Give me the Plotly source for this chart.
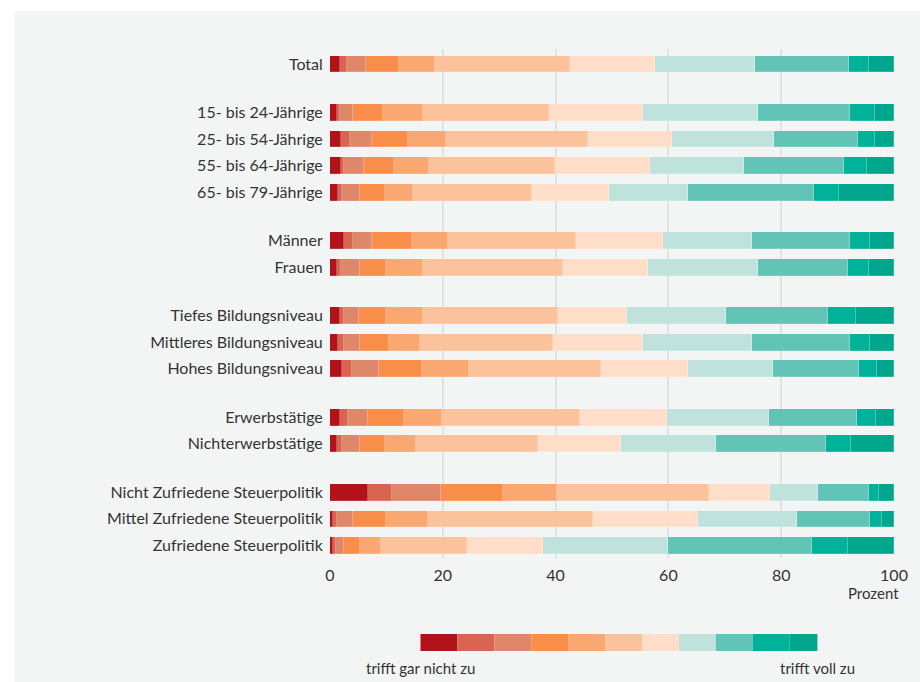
import plotly.graph_objects as go

# Kategorien von oben nach unten, in Gruppen
kategorien = [
    "Total",
    "15- bis 24-Jährige", "25- bis 54-Jährige", "55- bis 64-Jährige", "65- bis 79-Jährige",
    "Männer", "Frauen",
    "Tiefes Bildungsniveau", "Mittleres Bildungsniveau", "Hohes Bildungsniveau",
    "Erwerbstätige", "Nichterwerbstätige",
    "Nicht Zufriedene Steuerpolitik", "Mittel Zufriedene Steuerpolitik", "Zufriedene Steuerpolitik",
]
gruppen = [1, 4, 2, 3, 2, 3]

# Anteile in Prozent je Antwortstufe (0 = trifft gar nicht zu ... 10 = trifft voll zu)
stufe_0 = [1.8, 1.2, 1.9, 1.9, 1.4, 2.4, 1.2, 1.7, 1.4, 2.2, 1.8, 1.3, 6.8, 0.6, 0.5]
stufe_1 = [1.2, 0.5, 1.6, 0.6, 0.8, 1.6, 0.7, 0.8, 1.1, 1.7, 1.4, 0.9, 4.2, 0.6, 0.5]
stufe_2 = [3.4, 2.3, 3.9, 3.5, 3.1, 3.5, 3.4, 2.6, 2.8, 4.8, 3.6, 3.1, 8.6, 2.8, 1.4]
stufe_3 = [5.8, 5.4, 6.5, 5.3, 4.5, 7.0, 4.7, 4.8, 5.2, 7.6, 6.3, 4.4, 11.1, 6.0, 2.9]
stufe_4 = [6.5, 7.1, 6.7, 6.3, 5.0, 6.5, 6.5, 6.6, 5.4, 8.4, 6.8, 5.5, 9.6, 7.3, 3.8]
stufe_5 = [23.8, 22.4, 25.2, 22.3, 21.1, 22.7, 24.8, 23.9, 23.6, 23.4, 24.4, 21.7, 26.9, 29.3, 15.2]
stufe_6 = [15.2, 16.6, 14.8, 16.9, 13.5, 15.3, 15.0, 12.3, 16.0, 15.4, 15.5, 14.7, 10.9, 18.6, 13.4]
stufe_7 = [17.7, 20.3, 18.2, 16.6, 14.1, 15.8, 19.6, 17.6, 19.4, 15.0, 18.0, 16.9, 8.5, 17.6, 22.2]
stufe_8 = [16.6, 16.4, 14.9, 17.7, 22.3, 17.4, 15.9, 18.0, 17.3, 15.3, 15.7, 19.5, 9.0, 12.9, 25.5]
stufe_9 = [3.6, 4.4, 3.0, 4.2, 4.5, 3.5, 3.7, 4.9, 3.5, 3.1, 3.3, 4.4, 1.8, 2.1, 6.5]
stufe_10 = [4.4, 3.4, 3.3, 4.7, 9.7, 4.3, 4.5, 6.8, 4.3, 3.1, 3.2, 7.6, 2.6, 2.2, 8.1]
stufen = [stufe_0, stufe_1, stufe_2, stufe_3, stufe_4, stufe_5,
          stufe_6, stufe_7, stufe_8, stufe_9, stufe_10]

farben = ["#b2121a", "#d9644f", "#df8869", "#f88e4a", "#f9a872", "#fcc29b",
          "#fedec9", "#bfe3dc", "#61c4b6", "#00b29a", "#00a78c"]

x_ticks = [0, 20, 40, 60, 80, 100]
legende_links = "trifft gar nicht zu"
legende_rechts = "trifft voll zu"

# y-Positionen: Zeilenabstand 1, zusätzliche Lücke zwischen Gruppen
GAP = 0.82
pos = []
y = 0.0
for gi, n in enumerate(gruppen):
    if gi > 0:
        y += GAP
    for _ in range(n):
        pos.append(y)
        y += 1.0

BG = "#f3f5f4"
TXT = "#333333"
FONT = "Lato"

# Plotfläche in Pixeln
W, H = 920, 682
ML, MR, MT, MB = 330, 23, 49, 124
PW, PH = W - ML - MR, H - MT - MB


def px_x(p):
    return (p - ML) / PW


def px_y(p):
    return (H - MB - p) / PH


fig = go.Figure()
for i, werte in enumerate(stufen):
    fig.add_trace(go.Bar(
        x=werte, y=pos, orientation="h",
        marker=dict(color=farben[i], line=dict(color="rgba(255,255,255,0.25)", width=0.6)),
        width=0.63, name=str(i), showlegend=False,
        hovertemplate="%{x:.1f}%<extra></extra>",
    ))

# Hintergrundfläche
shapes = [dict(type="rect", xref="paper", yref="paper", x0=px_x(13), x1=px_x(925),
               y0=px_y(687), y1=px_y(11), fillcolor=BG, line=dict(width=0), layer="below")]

# Farbskala unter dem Diagramm
lx0, lx1 = px_x(421), px_x(820)
ly0, ly1 = px_y(651), px_y(634)
breiten = [1.0] * 10 + [0.75]
unit = (lx1 - lx0) / sum(breiten)
xx = lx0
for farbe, b in zip(farben, breiten):
    shapes.append(dict(type="rect", xref="paper", yref="paper", x0=xx, x1=xx + b * unit,
                       y0=ly0, y1=ly1, fillcolor=farbe, line=dict(width=0)))
    xx += b * unit

annotations = [
    dict(text="Prozent", xref="paper", yref="paper", x=px_x(904), y=px_y(593),
         xanchor="right", yanchor="middle", showarrow=False,
         font=dict(family=FONT, size=15, color=TXT)),
    dict(text=legende_links, xref="paper", yref="paper", x=lx0, y=px_y(668),
         xanchor="center", yanchor="middle", showarrow=False,
         font=dict(family=FONT, size=15, color=TXT)),
    dict(text=legende_rechts, xref="paper", yref="paper", x=lx1, y=px_y(668),
         xanchor="center", yanchor="middle", showarrow=False,
         font=dict(family=FONT, size=15, color=TXT)),
]

fig.update_layout(
    width=W, height=H, autosize=False,
    margin=dict(l=ML, r=MR, t=MT, b=MB, pad=0),
    barmode="stack", bargap=0,
    paper_bgcolor="white", plot_bgcolor=BG,
    font=dict(family=FONT, size=16, color=TXT),
    shapes=shapes, annotations=annotations,
    xaxis=dict(range=[0, 100], tickvals=x_ticks, ticktext=[str(v) for v in x_ticks],
               showgrid=True, gridcolor="#e1e3e2", gridwidth=1.5,
               zeroline=False, showline=False,
               ticks="outside", ticklen=3, tickcolor="rgba(0,0,0,0)",
               tickfont=dict(family=FONT, size=16, color=TXT), fixedrange=True),
    yaxis=dict(range=[pos[-1] + 0.47, -0.56], tickvals=pos, ticktext=kategorien,
               showgrid=False, zeroline=False, showline=False,
               ticks="outside", ticklen=3, tickcolor="rgba(0,0,0,0)",
               tickfont=dict(family=FONT, size=16, color=TXT), fixedrange=True),
)

fig.write_html("out.html")
